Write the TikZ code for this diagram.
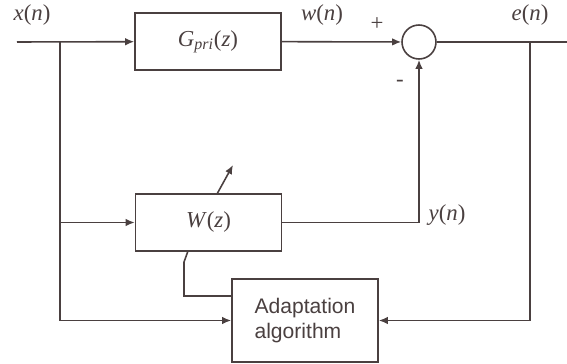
\documentclass[tikz,border=0pt]{standalone}
\usepackage{fontspec}
\setmainfont{Liberation Serif}
\newfontfamily\blocksans{Liberation Sans}
\usetikzlibrary{arrows.meta,positioning}
\definecolor{ink}{HTML}{4A4040}
\newcommand{\sig}[2]{\textit{#1}(\textit{#2})}
\tikzset{
 every node/.append style={text=ink},
 block/.style={draw=ink,line width=.9pt,minimum width=29.2mm,minimum height=11.4mm,inner sep=2pt},
 sumnode/.style={draw=ink,circle,line width=.9pt,minimum size=6.8mm,inner sep=0pt},
 wire/.style={draw=ink,line width=.9pt},
 flow/.style={wire,-{Latex[length=1.8mm,width=1.5mm]}},
 siglabel/.style={font=\fontsize{13}{15}\selectfont,inner sep=1pt},
 signlabel/.style={font=\fontsize{13}{15}\selectfont,inner sep=1pt},
}

\begin{document}
\begin{tikzpicture}

\useasboundingbox (0,0) rectangle (11.34,-7.28);
\node[block] (gpri) at (4.16,-0.83) {\fontsize{13}{15}\selectfont\textit{G}\textsubscript{\textit{pri}}(\textit{z})};
\node[sumnode] (sum) at (8.38,-0.84) {};
\node[block] (wz) at (4.17,-4.45) {\fontsize{13}{15}\selectfont\sig{W}{z}};
\node[block,minimum height=16.6mm,align=left,font=\blocksans\fontsize{12}{14}\selectfont] (adapt) at (6.1,-6.41) {Adaptation\\algorithm};

\coordinate (in) at (0.34,-0.84);
\coordinate (split) at (1.2,-0.84);
\coordinate (out) at (11.34,-0.84);
\coordinate (esplit) at (10.6,-0.84);
\coordinate (tune0) at (4.34,-3.88);
\coordinate (tune1) at (4.66,-3.3);
\coordinate (wtap) at (3.76,-5.02);
\coordinate (wkink) at (3.68,-5.24);
\coordinate (wfeed) at (4.64,-5.92);

\draw[flow] (in) -- (gpri);
\draw[flow] (gpri) -- (sum);
\draw[wire] (sum) -- (out);
\draw[flow] (split) |- (wz);
\draw[flow] (split) |- (adapt);
\draw[flow] (wz) -| (sum);
\draw[flow] (esplit) |- (adapt);
\draw[flow] (tune0) -- (tune1);
\draw[wire] (wtap) -- (wkink) |- (wfeed);

\node[siglabel] (xlab) at (0.64,-0.3) {\sig{x}{n}};
\node[siglabel] (wlab) at (6.44,-0.3) {\sig{w}{n}};
\node[siglabel] (elab) at (10.6,-0.3) {\sig{e}{n}};
\node[siglabel] (ylab) at (8.94,-4.3) {\sig{y}{n}};
\node[signlabel] (plus) at (7.54,-0.48) {+};
\node[signlabel] (minus) at (8.0,-1.66) {-};

\end{tikzpicture}
\end{document}
